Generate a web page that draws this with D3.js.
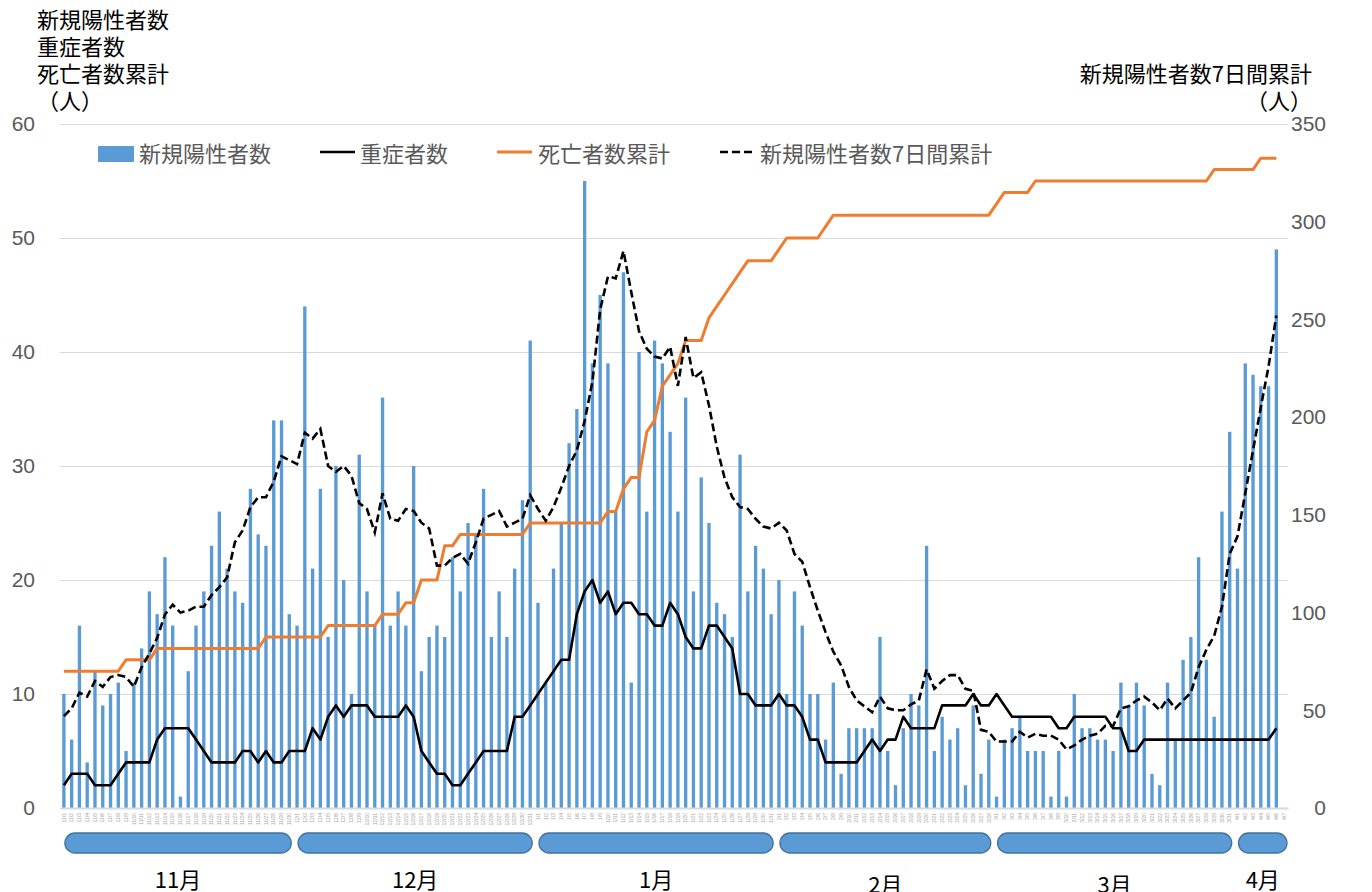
<!DOCTYPE html>
<html lang="ja">
<head>
<meta charset="UTF-8" />
<title>新規陽性者数・重症者数・死亡者数累計</title>
<style>
  body { margin: 0; background: #fff; }
  svg { display: block; font-family: "Noto Sans CJK JP", "Noto Sans", sans-serif; }
  .grid line { stroke: #d9d9d9; stroke-width: 1px; }
  .grid path { display: none; }
  .tick-num text { fill: #595959; font-size: 21px; }
  .xlab text { fill: #a6a6a6; font-size: 5px; }
</style>
</head>
<body>
<script src="https://cdnjs.cloudflare.com/ajax/libs/d3/7.8.5/d3.min.js"></script>
<script>
// categories
var dates = [
  "11/1","11/2","11/3","11/4","11/5","11/6","11/7","11/8","11/9","11/10","11/11","11/12","11/13","11/14","11/15",
  "11/16","11/17","11/18","11/19","11/20","11/21","11/22","11/23","11/24","11/25","11/26","11/27","11/28","11/29","11/30",
  "12/1","12/2","12/3","12/4","12/5","12/6","12/7","12/8","12/9","12/10","12/11","12/12","12/13","12/14","12/15","12/16",
  "12/17","12/18","12/19","12/20","12/21","12/22","12/23","12/24","12/25","12/26","12/27","12/28","12/29","12/30","12/31",
  "1/1","1/2","1/3","1/4","1/5","1/6","1/7","1/8","1/9","1/10","1/11","1/12","1/13","1/14","1/15","1/16",
  "1/17","1/18","1/19","1/20","1/21","1/22","1/23","1/24","1/25","1/26","1/27","1/28","1/29","1/30","1/31",
  "2/1","2/2","2/3","2/4","2/5","2/6","2/7","2/8","2/9","2/10","2/11","2/12","2/13","2/14",
  "2/15","2/16","2/17","2/18","2/19","2/20","2/21","2/22","2/23","2/24","2/25","2/26","2/27","2/28",
  "3/1","3/2","3/3","3/4","3/5","3/6","3/7","3/8","3/9","3/10","3/11","3/12","3/13","3/14","3/15","3/16",
  "3/17","3/18","3/19","3/20","3/21","3/22","3/23","3/24","3/25","3/26","3/27","3/28","3/29","3/30","3/31",
  "4/1","4/2","4/3","4/4","4/5","4/6","4/7"
];

// 新規陽性者数 (left axis)
var positives = [
  10,6,16,4,12,9,10,11,5,11, 14,19,17,22,16,1,12,16,19,23, 26,21,19,18,28,24,23,34,34,17,
  16,44,21,28,15,30,20,10,31,19, 16,36,16,19,16,30,12,15,16,15, 22,19,25,24,28,15,19,15,21,27, 41,
  18,11,21,25,32,35,55,39,45,39, 26,47,11,40,26,41,39,33,26,36, 19,29,25,18,17,15,31,19,23,21, 17,
  20,10,19,16,10,10,6,11,3,7, 7,7,7,15,5,2,7,10,9,23, 5,8,6,7,2,9,3,6,
  1,6,7,8,5,5,5,1,5,1, 10,7,7,6,6,5,11,9,11,9, 3,2,11,6,13,15,22,13,8,26, 33,
  21,39,38,37,37,49,null
];

// 重症者数 (left axis)
var severe = [
  2,3,3,3,2,2,2,3,4,4, 4,4,6,7,7,7,7,6,5,4, 4,4,4,5,5,4,5,4,4,5,
  5,5,7,6,8,9,8,9,9,9, 8,8,8,8,9,8,5,4,3,3, 2,2,3,4,5,5,5,5,8,8, 9,
  10,11,12,13,13,17,19,20,18,19, 17,18,18,17,17,16,16,18,17,15, 14,14,16,16,15,14,10,10,9,9, 9,
  10,9,9,8,6,6,4,4,4,4, 4,5,6,5,6,6,8,7,7,7, 7,9,9,9,9,10,9,9,
  10,9,8,8,8,8,8,8,7,7, 8,8,8,8,8,7,7,5,5,6, 6,6,6,6,6,6,6,6,6,6, 6,
  6,6,6,6,6,7,null
];

// 死亡者数累計 (left axis)
var deaths = [
  12,12,12,12,12,12,12,12,13,13, 13,13,14,14,14,14,14,14,14,14, 14,14,14,14,14,14,15,15,15,15,
  15,15,15,15,16,16,16,16,16,16, 16,17,17,17,18,18,20,20,20,23, 23,24,24,24,24,24,24,24,24,24, 25,
  25,25,25,25,25,25,25,25,25,26, 26,28,29,29,33,34,37,38,39,41, 41,41,43,44,45,46,47,48,48,48, 48,
  49,50,50,50,50,50,51,52,52,52, 52,52,52,52,52,52,52,52,52,52, 52,52,52,52,52,52,52,52,
  53,54,54,54,54,55,55,55,55,55, 55,55,55,55,55,55,55,55,55,55, 55,55,55,55,55,55,55,55,56,56, 56,
  56,56,56,57,57,57,null
];

// 新規陽性者数7日間累計 (right axis)
var weekly = [
  47,51,59,57,65,62,67,68,67,62, 72,79,87,99,104,100,101,103,103,109, 113,118,136,142,154,159,159,167,180,178,
  176,192,189,194,175,172,175,170,156,153, 141,161,148,147,153,152,146,143,124,124, 128,130,125,136,148,150,152,144,146,148, 160,
  153,147,154,164,175,183,198,218,255,272, 271,285,264,244,235,231,230,236,216,241, 220,223,206,185,169,159,154,153,148,144, 143,
  146,142,130,126,113,101,90,80,73,62, 55,52,49,57,51,50,50,53,55,71, 61,65,68,68,61,60,40,39,
  34,34,34,39,36,38,37,37,35,30, 32,35,37,38,42,42,51,52,55,57, 54,50,56,51,55,59,72,81,88,103, 130,
  139,161,183,205,226,252,null
];

// month brackets: label, first and last category
var monthNames = ["11月", "12月", "1月", "2月", "3月", "4月"];
var monthFirst = ["11/1", "12/1", "1/1", "2/1", "3/1", "4/1"];
var monthLast = ["11/30", "12/31", "1/31", "2/28", "3/31", "4/7"];

var leftTicks = [0, 10, 20, 30, 40, 50, 60];
var rightTicks = [0, 50, 100, 150, 200, 250, 300, 350];

var w = 1372, h = 892;
var plot = { left: 60, right: 1288, top: 124, bottom: 808 };

var svg = d3.select("body").append("svg")
  .attr("width", w)
  .attr("height", h);

var xScale = d3.scaleBand()
  .domain(dates)
  .range([plot.left, plot.right])
  .paddingInner(0.57)
  .paddingOuter(0.285);
var bw = xScale.bandwidth();
function cx(d) { return xScale(d) + bw / 2; }

var yLeft = d3.scaleLinear().domain([0, 60]).range([plot.bottom, plot.top]);
var yRight = d3.scaleLinear().domain([0, 350]).range([plot.bottom, plot.top]);

// gridlines
svg.append("g")
  .attr("class", "grid")
  .attr("transform", "translate(" + plot.left + ",0)")
  .call(d3.axisLeft(yLeft).tickValues(leftTicks).tickSize(-(plot.right - plot.left)).tickFormat(""));

// left numbers
var la = svg.append("g")
  .attr("class", "tick-num")
  .attr("transform", "translate(35,0)")
  .call(d3.axisLeft(yLeft).tickValues(leftTicks).tickSize(0).tickPadding(0));
la.select(".domain").remove();

// right numbers
var ra = svg.append("g")
  .attr("class", "tick-num")
  .attr("transform", "translate(1326,0)")
  .call(d3.axisLeft(yRight).tickValues(rightTicks).tickSize(0).tickPadding(0));
ra.select(".domain").remove();

// bars
svg.append("g")
  .selectAll("rect")
  .data(dates.map(function(d, i) { return { d: d, v: positives[i] }; }).filter(function(p) { return p.v != null; }))
  .enter()
  .append("rect")
  .attr("x", function(p) { return xScale(p.d); })
  .attr("y", function(p) { return yLeft(p.v); })
  .attr("width", bw)
  .attr("height", function(p) { return yLeft(0) - yLeft(p.v); })
  .attr("fill", "#5b9bd5");

// x axis line + date labels
var xa = svg.append("g")
  .attr("class", "xlab")
  .attr("transform", "translate(0," + plot.bottom + ")")
  .call(d3.axisBottom(xScale).tickSize(0).tickPadding(0));
xa.select(".domain").attr("stroke", "#d9d9d9").attr("stroke-width", 2);
xa.selectAll(".tick text")
  .attr("transform", "rotate(-90)")
  .attr("text-anchor", "end")
  .attr("x", -5)
  .attr("y", 0)
  .attr("dy", "0.35em");

function seriesLine(vals, scale) {
  return d3.line()
    .defined(function(d, i) { return vals[i] != null; })
    .x(function(d) { return cx(d); })
    .y(function(d, i) { return scale(vals[i]); });
}

svg.append("path")
  .datum(dates)
  .attr("fill", "none")
  .attr("stroke", "#ed7d31")
  .attr("stroke-width", 3)
  .attr("stroke-linejoin", "round")
  .attr("d", seriesLine(deaths, yLeft));

svg.append("path")
  .datum(dates)
  .attr("fill", "none")
  .attr("stroke", "#000")
  .attr("stroke-width", 2.6)
  .attr("stroke-linejoin", "round")
  .attr("d", seriesLine(severe, yLeft));

svg.append("path")
  .datum(dates)
  .attr("fill", "none")
  .attr("stroke", "#000")
  .attr("stroke-width", 2.6)
  .attr("stroke-dasharray", "8,4")
  .attr("d", seriesLine(weekly, yRight));

// month pills
var months = svg.append("g");
monthNames.forEach(function(m, i) {
  var x0 = cx(monthFirst[i]) + 1;
  var x1 = cx(monthLast[i]) + 2;
  if (i == monthNames.length - 1) x1 = plot.right - 1;
  months.append("rect")
    .attr("x", x0)
    .attr("y", 833)
    .attr("width", x1 - x0)
    .attr("height", 20)
    .attr("rx", 10)
    .attr("fill", "#5b9bd5")
    .attr("stroke", "#41719c")
    .attr("stroke-width", 1.3);
  var low = (m == "2月" || m == "3月") ? 5 : 0;
  months.append("text")
    .attr("x", (x0 + x1) / 2)
    .attr("y", 878 + low)
    .attr("text-anchor", "middle")
    .attr("dominant-baseline", "central")
    .attr("font-size", 22)
    .attr("fill", "#000")
    .text(m);
});

// axis titles
var leftTitle = ["新規陽性者数", "重症者数", "死亡者数累計", "（人）"];
leftTitle.forEach(function(t, i) {
  svg.append("text")
    .attr("x", 37)
    .attr("y", 18 + i * 27)
    .attr("dominant-baseline", "central")
    .attr("font-size", 22)
    .attr("fill", "#000")
    .text(t);
});
var rightTitle = ["新規陽性者数7日間累計", "（人）"];
rightTitle.forEach(function(t, i) {
  svg.append("text")
    .attr("x", 1312)
    .attr("y", 72 + i * 27)
    .attr("text-anchor", "end")
    .attr("dominant-baseline", "central")
    .attr("font-size", 22)
    .attr("fill", "#000")
    .text(t);
});

// legend
var lg = svg.append("g").attr("font-size", 22).attr("fill", "#595959");
lg.append("rect").attr("x", 98).attr("y", 146).attr("width", 36).attr("height", 16).attr("fill", "#5b9bd5");
lg.append("text").attr("x", 139).attr("y", 152).attr("dominant-baseline", "central").text("新規陽性者数");
lg.append("line").attr("x1", 320).attr("x2", 355).attr("y1", 152).attr("y2", 152)
  .attr("stroke", "#000").attr("stroke-width", 2.6);
lg.append("text").attr("x", 360).attr("y", 152).attr("dominant-baseline", "central").text("重症者数");
lg.append("line").attr("x1", 497).attr("x2", 532).attr("y1", 152).attr("y2", 152)
  .attr("stroke", "#ed7d31").attr("stroke-width", 3);
lg.append("text").attr("x", 538).attr("y", 152).attr("dominant-baseline", "central").text("死亡者数累計");
lg.append("line").attr("x1", 720).attr("x2", 755).attr("y1", 152).attr("y2", 152)
  .attr("stroke", "#000").attr("stroke-width", 2.6).attr("stroke-dasharray", "8,4");
lg.append("text").attr("x", 760).attr("y", 152).attr("dominant-baseline", "central").text("新規陽性者数7日間累計");
</script>
</body>
</html>
